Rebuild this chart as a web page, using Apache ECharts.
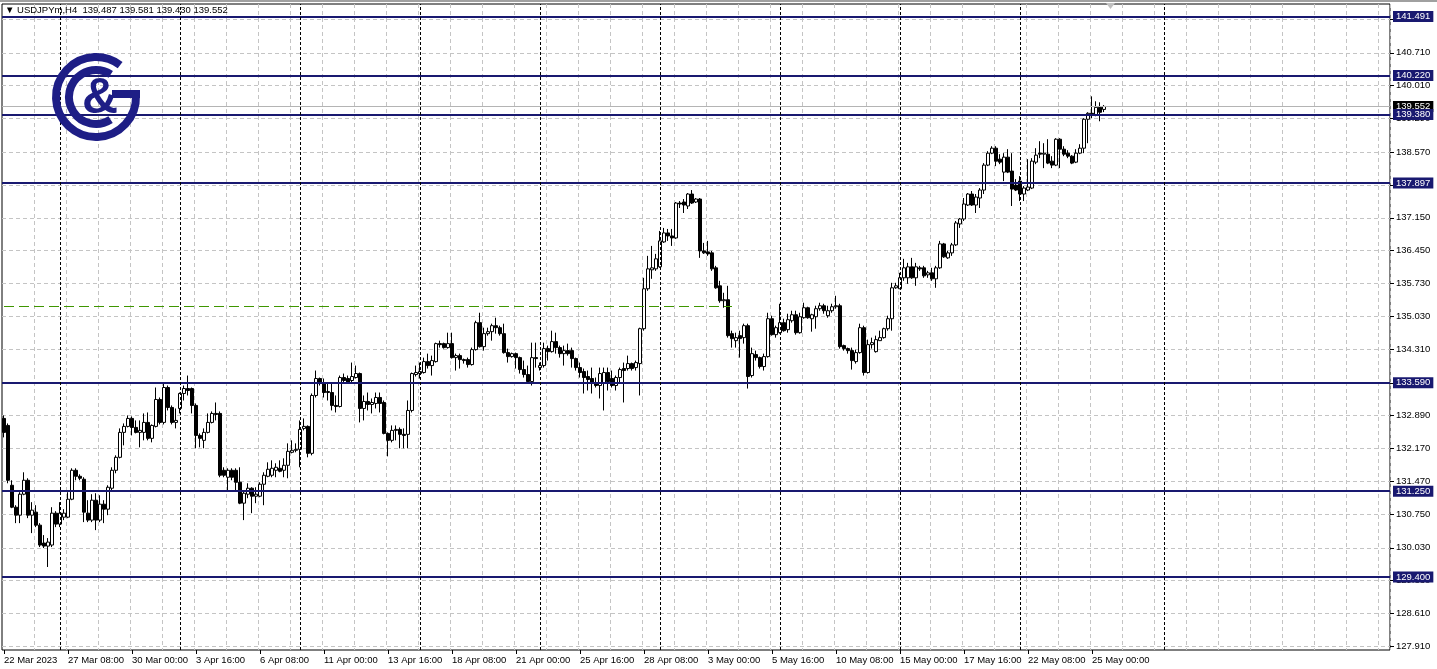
<!DOCTYPE html>
<html><head><meta charset="utf-8">
<script src="https://cdn.jsdelivr.net/npm/echarts@6/dist/echarts.min.js"></script>
<style>html,body{margin:0;padding:0;background:#fff}#c{width:1437px;height:669px}</style>
</head><body><div id="c"></div>
<script>
const headerText = '\u25BC USDJPYm,H4  139.487 139.581 139.430 139.552';
// [open, close, low, high]
const candles = [
[132.821,132.520,132.412,132.886],[132.670,131.487,131.422,132.713],[131.379,130.906,130.885,131.487],[130.906,130.734,130.562,130.949],
[130.734,131.186,130.562,131.229],[131.186,131.487,131.164,131.659],[131.487,130.734,130.670,131.530],[130.734,130.842,130.347,131.014],
[130.799,130.519,130.476,130.949],[130.519,130.089,130.046,130.562],[130.132,130.067,130.024,130.304],[130.067,130.153,129.616,130.239],
[130.089,130.777,130.046,130.906],[130.777,130.541,130.476,130.820],[130.541,130.777,130.476,131.014],[130.691,130.777,130.627,130.863],
[130.691,131.078,130.670,131.229],[131.078,131.702,131.057,131.745],[131.702,131.573,131.487,131.745],[131.573,131.530,131.487,131.616],
[131.509,130.799,130.584,131.552],[130.777,130.627,130.584,131.057],[130.627,131.057,130.584,131.186],[131.057,130.627,130.411,131.207],
[130.627,130.971,130.584,131.164],[130.971,130.863,130.562,131.057],[130.863,131.336,130.734,131.379],[131.315,131.702,131.272,131.767],
[131.702,131.982,131.638,132.025],[131.982,132.520,131.960,132.606],[132.520,132.649,132.240,132.713],[132.649,132.821,132.627,132.886],
[132.821,132.627,132.455,132.864],[132.627,132.520,132.498,132.778],[132.520,132.563,132.197,132.778],[132.520,132.735,132.348,132.929],
[132.735,132.391,132.348,132.950],[132.391,132.670,132.305,132.692],[132.649,133.230,132.627,133.488],[133.230,132.735,132.692,133.273],
[132.735,133.488,132.692,133.574],[133.488,133.058,132.993,133.531],[133.058,132.735,132.692,133.101],[132.735,132.778,132.606,133.036],
[133.036,133.359,132.929,133.380],[133.359,133.466,133.208,133.531],[133.466,133.423,133.316,133.746],[133.466,133.101,132.929,133.488],
[133.101,132.455,132.176,133.144],[132.455,132.391,132.197,132.498],[132.348,132.520,132.176,132.606],[132.520,132.735,132.498,132.929],
[132.735,132.929,132.713,132.972],[132.929,132.907,132.778,133.165],[132.929,131.595,131.552,132.972],[131.702,131.595,131.552,131.767],
[131.552,131.702,131.272,131.745],[131.702,131.552,131.487,131.745],[131.702,131.444,131.272,131.745],[131.444,130.993,130.971,131.767],
[130.993,131.207,130.627,131.272],[131.186,131.315,131.100,131.422],[131.315,131.143,130.777,131.336],[131.143,131.186,130.993,131.336],
[131.143,131.401,131.121,131.444],[131.401,131.595,130.949,131.659],[131.573,131.724,131.552,131.874],[131.595,131.745,131.552,131.917],
[131.702,131.767,131.552,131.853],[131.745,131.681,131.659,131.917],[131.702,131.810,131.552,131.960],[131.810,132.111,131.530,132.283],
[132.090,132.133,132.068,132.348],[132.133,132.154,132.090,132.283],[132.154,132.584,131.767,132.778],[132.606,132.649,132.563,132.821],
[132.649,132.068,131.982,132.670],[132.068,133.316,132.025,133.359],[133.316,133.682,133.273,133.854],[133.682,133.574,133.531,133.703],
[133.596,133.380,133.273,133.682],[133.380,133.402,133.208,133.574],[133.380,133.101,132.993,133.596],[133.101,133.079,132.950,133.316],
[133.079,133.703,133.058,133.746],[133.703,133.639,133.596,133.789],[133.682,133.596,133.574,133.746],[133.639,133.725,133.574,134.026],
[133.703,133.789,133.682,133.961],[133.789,133.036,132.735,133.811],[133.036,133.187,132.778,133.316],[133.187,133.122,132.993,133.380],
[133.122,133.165,132.929,133.251],[133.144,133.273,133.036,133.380],[133.273,133.144,132.950,133.380],[133.165,132.498,132.477,133.208],
[132.498,132.348,132.003,132.520],[132.348,132.563,132.305,132.670],[132.563,132.584,132.348,132.670],[132.584,132.477,132.176,132.627],
[132.477,132.455,132.176,132.606],[132.477,132.993,132.176,133.208],[132.993,133.789,132.950,133.811],[133.768,133.811,133.725,133.961],
[133.789,133.832,133.682,134.026],[133.811,134.047,133.789,134.133],[134.047,133.961,133.897,134.219],[133.961,134.069,133.746,134.176],
[134.047,134.435,134.026,134.456],[134.435,134.413,134.349,134.499],[134.435,134.349,134.327,134.456],[134.349,134.435,134.327,134.671],
[134.435,134.133,134.112,134.671],[134.133,134.176,133.854,134.219],[134.176,134.090,133.897,134.219],[134.090,134.069,134.004,134.112],
[134.090,133.983,133.918,134.133],[133.983,134.306,133.961,134.349],[134.306,134.887,134.284,134.929],[134.887,134.370,134.349,135.101],
[134.370,134.650,134.284,134.779],[134.650,134.693,134.607,134.779],[134.693,134.822,134.499,134.865],[134.822,134.779,134.650,134.994],
[134.779,134.650,134.607,134.822],[134.650,134.241,134.219,134.865],[134.241,134.155,134.026,134.327],[134.155,134.219,134.133,134.241],
[134.219,134.133,133.897,134.241],[134.133,133.875,133.789,134.155],[133.875,133.768,133.703,134.069],[133.768,133.617,133.574,133.961],
[133.617,134.133,133.531,134.456],[134.133,134.112,133.918,134.456],[133.918,133.961,133.854,134.026],[133.961,134.327,133.918,134.456],
[134.327,134.262,134.069,134.392],[134.262,134.478,134.241,134.714],[134.478,134.349,134.219,134.671],[134.349,134.219,134.133,134.392],
[134.219,134.284,133.961,134.392],[134.284,134.219,134.176,134.435],[134.284,134.112,133.918,134.349],[134.112,133.918,133.854,134.133],
[133.918,133.811,133.703,134.026],[133.832,133.703,133.359,133.897],[133.725,133.660,133.423,133.854],[133.682,133.574,133.359,133.918],
[133.596,133.531,133.488,133.703],[133.531,133.789,133.251,133.918],[133.596,133.811,132.993,133.918],[133.811,133.617,133.423,133.918],
[133.682,133.531,133.488,133.854],[133.531,133.703,133.423,133.746],[133.703,133.875,133.574,133.918],[133.897,133.854,133.165,134.026],
[133.897,134.004,133.854,134.176],[134.004,133.897,133.854,134.026],[133.918,134.026,133.854,134.069],[134.004,134.757,133.316,134.779],
[134.757,135.618,134.714,135.855],[135.618,136.048,135.575,136.328],[136.027,136.070,135.833,136.543],[136.048,136.264,136.005,136.371],
[136.091,136.651,136.070,136.866],[136.629,136.823,136.608,136.931],[136.823,136.758,136.651,136.909],[136.758,136.715,136.543,136.909],
[136.715,137.468,136.694,137.490],[137.468,137.447,137.361,137.511],[137.490,137.425,137.253,137.554],[137.404,137.662,137.339,137.683],
[137.662,137.468,137.447,137.748],[137.490,137.554,137.468,137.576],[137.554,136.435,136.285,137.576],[136.435,136.393,136.371,136.608],
[136.414,136.371,136.328,136.651],[136.393,136.048,136.005,136.435],[136.070,135.639,135.618,136.113],[135.682,135.360,135.317,135.790],
[135.360,135.382,135.209,135.532],[135.382,134.607,134.564,135.682],[134.650,134.543,134.349,134.714],[134.499,134.564,134.349,134.671],
[134.607,134.543,134.133,134.714],[134.564,134.822,134.435,134.865],[134.822,133.725,133.466,134.865],[133.746,134.219,133.703,134.349],
[134.198,134.133,134.069,134.284],[134.133,133.940,133.897,134.155],[133.940,134.155,133.854,134.219],[134.155,134.972,134.133,135.101],
[134.972,134.628,134.607,135.037],[134.628,134.779,134.564,134.822],[134.671,134.887,134.650,135.295],[134.887,134.714,134.693,134.972],
[134.736,134.951,134.671,135.080],[134.929,135.058,134.887,135.145],[135.058,134.671,134.628,135.145],[134.671,135.015,134.650,135.101],
[134.994,135.209,134.972,135.317],[135.209,134.994,134.972,135.231],[134.972,135.058,134.693,135.080],[135.015,135.188,134.757,135.252],
[135.188,135.252,135.145,135.317],[135.252,135.145,135.080,135.295],[135.037,135.145,134.994,135.252],[135.145,135.231,135.101,135.295],
[135.231,135.252,135.188,135.467],[135.252,134.370,134.327,135.295],[134.392,134.327,134.284,134.413],[134.327,134.284,134.219,134.349],
[134.284,134.069,133.875,134.349],[134.047,134.241,134.004,134.306],[134.241,134.779,134.219,134.865],[134.779,133.811,133.746,134.822],
[133.811,134.413,133.789,134.521],[134.413,134.456,134.327,134.564],[134.262,134.521,134.241,134.607],[134.499,134.564,134.499,134.714],
[134.564,134.757,134.543,134.779],[134.757,134.972,134.714,135.037],[134.972,135.639,134.714,135.747],[135.639,135.682,135.618,135.747],
[135.618,135.855,135.618,135.962],[135.855,136.070,135.790,136.264],[135.855,136.091,135.725,136.177],[136.091,135.855,135.833,136.285],
[135.855,136.091,135.682,136.177],[136.070,136.048,136.005,136.113],[136.070,135.898,135.855,136.113],[135.919,135.962,135.855,136.005],
[135.962,135.833,135.790,136.070],[135.833,136.070,135.639,136.113],[136.070,136.586,136.048,136.651],[136.586,136.307,136.285,136.608],
[136.285,136.393,136.264,136.435],[136.393,136.565,136.328,136.608],[136.565,137.038,136.543,137.081],[137.017,137.124,136.931,137.146],
[137.124,137.447,137.081,137.576],[137.425,137.662,137.404,137.683],[137.662,137.425,137.404,137.726],[137.425,137.597,137.253,137.662],
[137.576,137.748,137.361,137.791],[137.748,138.286,137.662,138.329],[138.286,138.544,138.264,138.587],[138.544,138.651,138.522,138.694],
[138.651,138.372,138.264,138.694],[138.415,138.350,138.307,138.522],[138.135,138.458,137.941,138.544],[138.458,138.135,138.114,138.630],
[138.157,137.769,137.404,138.544],[137.855,137.748,137.726,137.984],[137.941,137.662,137.511,138.049],[137.662,137.791,137.511,137.834],
[137.748,137.812,137.726,138.415],[137.791,138.372,137.769,138.436],[138.350,138.501,138.307,138.651],[138.544,138.522,138.436,138.802],
[138.522,138.544,138.221,138.759],[138.522,138.329,138.307,138.845],[138.372,138.286,138.221,138.479],[138.286,138.845,138.264,138.867],
[138.845,138.630,138.221,138.867],[138.630,138.522,138.479,138.694],[138.544,138.479,138.436,138.608],[138.479,138.329,138.307,138.501],
[138.350,138.544,138.329,138.630],[138.544,138.651,138.522,138.737],[138.651,139.275,138.544,139.297],[139.275,139.404,138.759,139.426],
[139.404,139.383,139.297,139.770],[139.361,139.533,139.340,139.663],[139.533,139.426,139.232,139.641],[139.487,139.552,139.430,139.581]
];
const timeLabels = ['22 Mar 2023','27 Mar 08:00','30 Mar 00:00','3 Apr 16:00','6 Apr 08:00','11 Apr 00:00','13 Apr 16:00','18 Apr 08:00','21 Apr 00:00','25 Apr 16:00','28 Apr 08:00','3 May 00:00','5 May 16:00','10 May 08:00','15 May 00:00','17 May 16:00','22 May 08:00','25 May 00:00'];
const labelEvery = 16;
const gridEvery = 8;
const totalSlots = 347;
const priceTicks = [127.91,128.61,129.33,130.03,130.75,131.47,132.17,132.89,133.59,134.31,135.03,135.73,136.45,137.15,137.85,138.57,139.29,140.01,140.71,141.43];
const levels = [141.491,140.22,139.38,137.897,133.59,131.25,129.4];
const bidPrice = 139.552;
const greenLevel = 135.236;
const greenEndBar = 182;
const separatorBars = [14,44,74,104,134,164,194,224,254,290];
const yMin = 127.825, yMax = 141.762;

const categories = [];
for (let i = 0; i < totalSlots; i++) categories.push(String(i));

const NAVY = '#191970';
const FONT = 'Liberation Sans';
const markData = [];
markData.push({yAxis: bidPrice, lineStyle: {color: '#b4b4b4', width: 1, type: 'solid'},
  label: {show: true, position: 'end', distance: 3, formatter: bidPrice.toFixed(3), backgroundColor: '#000', color: '#fff', padding: [1, 3, 0, 3], fontSize: 9.5, fontFamily: FONT}});
levels.forEach(v => markData.push({yAxis: v, lineStyle: {color: NAVY, width: 2, type: 'solid'},
  label: {show: true, position: 'end', distance: 3, formatter: v.toFixed(3), backgroundColor: NAVY, color: '#fff', padding: [1, 3, 0, 3], fontSize: 9.5, fontFamily: FONT}}));
separatorBars.forEach(b => markData.push({xAxis: String(b), lineStyle: {color: '#000', width: 1, type: [3, 2]}, label: {show: false}}));
markData.push([{coord: ['0', greenLevel], lineStyle: {color: '#3f9600', width: 1, type: [10, 5]}, label: {show: false}}, {coord: [String(greenEndBar), greenLevel]}]);

const chart = echarts.init(document.getElementById('c'), null, {renderer: 'canvas'});
chart.setOption({
  animation: false,
  backgroundColor: '#fff',
  textStyle: {fontFamily: FONT},
  grid: {left: 2, right: 47, top: 4, bottom: 19, show: true, borderColor: '#000', borderWidth: 1, backgroundColor: 'transparent'},
  xAxis: {
    type: 'category', data: categories, boundaryGap: true,
    axisLine: {show: false},
    axisTick: {show: true, length: 4, alignWithLabel: true, interval: (i) => i % labelEvery === 0 && i / labelEvery < timeLabels.length, lineStyle: {color: '#000'}},
    axisLabel: {show: true, interval: (i) => i % labelEvery === 0 && i / labelEvery < timeLabels.length,
      formatter: (v, i) => timeLabels[Math.round(Number(v) / labelEvery)] || '', align: 'left', margin: 5, color: '#000', fontSize: 9.5, fontFamily: FONT},
    splitLine: {show: true, interval: (i) => i > 0 && i % gridEvery === 0, lineStyle: {color: '#c4c4c4', width: 1, type: [4, 3]}}
  },
  yAxis: {
    type: 'value', position: 'right', min: yMin, max: yMax, scale: true,
    axisLine: {show: false},
    axisTick: {show: true, length: 4, customValues: priceTicks, lineStyle: {color: '#000'}},
    axisLabel: {show: true, customValues: priceTicks, formatter: (v) => Number(v).toFixed(3), margin: 6, color: '#000', fontSize: 9.5, fontFamily: FONT},
    splitLine: {show: true, lineStyle: {color: '#c4c4c4', width: 1, type: [4, 3]}}
  },
  series: [{
    type: 'candlestick', data: candles, barWidth: 3,
    itemStyle: {color: '#fff', color0: '#000', borderColor: '#000', borderColor0: '#000', borderWidth: 1},
    markLine: {silent: true, symbol: ['none', 'none'], animation: false, z: 10, label: {show: false}, data: markData}
  }],
  graphic: [
    {type: 'rect', shape: {x: 0, y: 0, width: 1437, height: 2}, style: {fill: '#a0a0a0'}, z: 100},
    {type: 'polygon', shape: {points: [[1106, 3], [1115, 3], [1110.5, 9]]}, style: {fill: '#c0c0c0'}, z: 100},
    {type: 'text', left: 5, top: 5, style: {text: headerText, fill: '#000', font: '9.5px "Liberation Sans"'}, z: 100},
    {type: 'arc', shape: {cx: 96, cy: 97, r: 40, startAngle: -0.04, endAngle: 5.36, clockwise: true}, style: {stroke: '#1e1e86', lineWidth: 8, fill: null}, z: 90},
    {type: 'rect', shape: {x: 112, y: 90, width: 28, height: 8}, style: {fill: '#1e1e86'}, z: 90},
    {type: 'arc', shape: {cx: 96, cy: 97, r: 27, startAngle: 1.0, endAngle: 5.29, clockwise: true}, style: {stroke: '#1e1e86', lineWidth: 8, fill: null}, z: 90},
    {type: 'text', x: 100, y: 99, style: {text: '&', fill: '#1e1e86', font: 'bold 50px "Liberation Sans"', textAlign: 'center', textVerticalAlign: 'middle'}, z: 90}
  ]
});
</script>
</body></html>
